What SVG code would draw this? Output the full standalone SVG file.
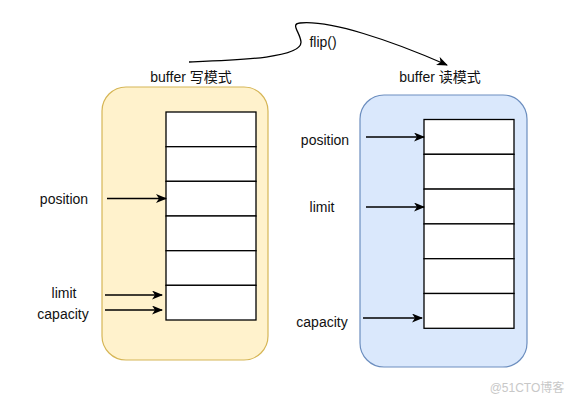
<svg xmlns="http://www.w3.org/2000/svg" width="582" height="407" viewBox="0 0 582 407">
<defs>
<marker id="ah" markerWidth="11" markerHeight="9" refX="10" refY="4.5" orient="auto" markerUnits="userSpaceOnUse">
<path d="M0,0 L11,4.5 L0,9 L3,4.5 Z" fill="#000"/>
</marker>
<style>
text{font-family:"Liberation Sans",Arial,"Noto Sans CJK SC",sans-serif;font-size:14px;fill:#111}
.cell{fill:#fff;stroke:#000;stroke-width:1.3}
.arr{stroke:#000;stroke-width:1.3;fill:none;marker-end:url(#ah)}
</style>
</defs>
<rect width="582" height="407" fill="#fff"/>
<g id="write-container">
<rect x="102" y="87" width="166" height="273" rx="24" fill="#fff2cc" stroke="#d6b656" stroke-width="1.2"/>
<text x="191" y="82" text-anchor="middle">buffer 写模式</text>
</g>
<g id="write-buffer">
<rect class="cell" x="166" y="112" width="90" height="34.7"/>
<rect class="cell" x="166" y="146.7" width="90" height="34.7"/>
<rect class="cell" x="166" y="181.3" width="90" height="34.7"/>
<rect class="cell" x="166" y="216" width="90" height="34.7"/>
<rect class="cell" x="166" y="250.7" width="90" height="34.7"/>
<rect class="cell" x="166" y="285.3" width="90" height="34.7"/>
</g>
<g id="read-container">
<rect x="360" y="95" width="167" height="272" rx="24" fill="#dae8fc" stroke="#6c8ebf" stroke-width="1.2"/>
<text x="440" y="82" text-anchor="middle">buffer 读模式</text>
</g>
<g id="read-buffer">
<rect class="cell" x="424" y="119.5" width="90" height="34.8"/>
<rect class="cell" x="424" y="154.3" width="90" height="34.8"/>
<rect class="cell" x="424" y="189.1" width="90" height="34.8"/>
<rect class="cell" x="424" y="223.9" width="90" height="34.8"/>
<rect class="cell" x="424" y="258.7" width="90" height="34.8"/>
<rect class="cell" x="424" y="293.5" width="90" height="34.8"/>
</g>
<g id="labels">
<text x="64" y="204" text-anchor="middle">position</text>
<text x="64" y="298" text-anchor="middle">limit</text>
<text x="63" y="319" text-anchor="middle">capacity</text>
<text x="325" y="145" text-anchor="middle">position</text>
<text x="322" y="212" text-anchor="middle">limit</text>
<text x="322" y="327" text-anchor="middle">capacity</text>
<text x="323" y="47" text-anchor="middle">flip()</text>
</g>
<g id="connectors">
<path class="arr" d="M107,198.5 L166,198.5"/>
<path class="arr" d="M105,295 L162,295"/>
<path class="arr" d="M105,310 L162,310"/>
<path class="arr" d="M366,137 L424,137"/>
<path class="arr" d="M366,207 L424,207"/>
<path class="arr" d="M363,318 L422,318"/>
<path class="arr" d="M189,62 C240,60 302,58 301,42 C300,32 290,24 300,23 C330,20 390,40 447,65"/>
</g>
<text x="527" y="392" text-anchor="middle" style="fill:#c8c8c8;font-size:12px">@51CTO博客</text>
</svg>
